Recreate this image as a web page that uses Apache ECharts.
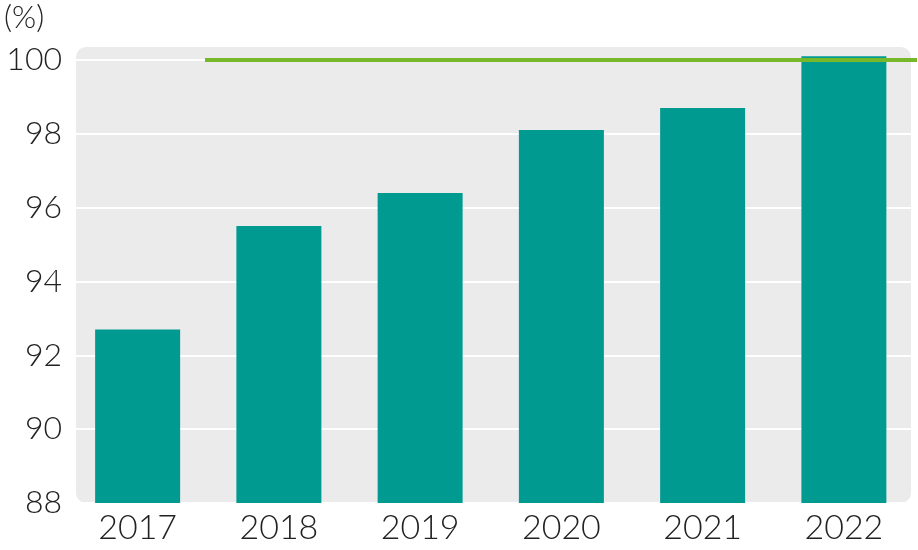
<!DOCTYPE html>
<html><head><meta charset="utf-8">
<script src="https://cdn.jsdelivr.net/npm/echarts@6/dist/echarts.min.js"></script>
<style>html,body{margin:0;padding:0;background:#fff}#c{width:918px;height:550px}</style>
</head><body><div id="c"></div>
<script>
const categories = ['2017','2018','2019','2020','2021','2022'];
const values = [92.7, 95.5, 96.4, 98.1, 98.7, 100.1];
const targetValue = 100;
const yMin = 88, yMax = 100.4, yInterval = 2;
const unitLabel = '(%)';

const chart = echarts.init(document.getElementById('c'));
const font = 'Lato';
chart.setOption({
  animation: false,
  backgroundColor: '#fff',
  graphic: [
    { type: 'rect', z: -100, silent: true,
      shape: { x: 76, y: 47, width: 835, height: 456, r: 10 },
      style: { fill: '#ebebeb' } },
    { type: 'text', left: 4, top: 2,
      style: { text: unitLabel, font: '300 31px Lato', fill: '#222' } }
  ],
  grid: { left: 67, right: 3.5, top: 45.2, bottom: 47, containLabel: false },
  xAxis: {
    type: 'category', data: categories,
    axisLine: { show: false }, axisTick: { show: false },
    axisLabel: { color: '#222', fontFamily: font, fontWeight: 300, fontSize: 34, margin: 8 }
  },
  yAxis: {
    type: 'value', min: yMin, max: yMax, interval: yInterval,
    axisLine: { show: false }, axisTick: { show: false },
    splitLine: { show: true, lineStyle: { color: '#ffffff', width: 2 } },
    axisLabel: { color: '#222', fontFamily: font, fontWeight: 300, fontSize: 32, margin: 5,
      formatter: v => (Math.abs(v - Math.round(v)) < 1e-6 && Math.round(v) % 2 === 0) ? String(Math.round(v)) : '' }
  },
  series: [{
    type: 'bar', data: values, barWidth: 85,
    itemStyle: { color: '#009a90' },
    markLine: {
      silent: true, symbol: ['none','none'], label: { show: false },
      lineStyle: { color: '#76b82a', width: 4, type: 'solid' },
      z: 10,
      data: [[ { x: 205, yAxis: targetValue }, { x: 917, yAxis: targetValue } ]]
    }
  }]
});
</script></body></html>
